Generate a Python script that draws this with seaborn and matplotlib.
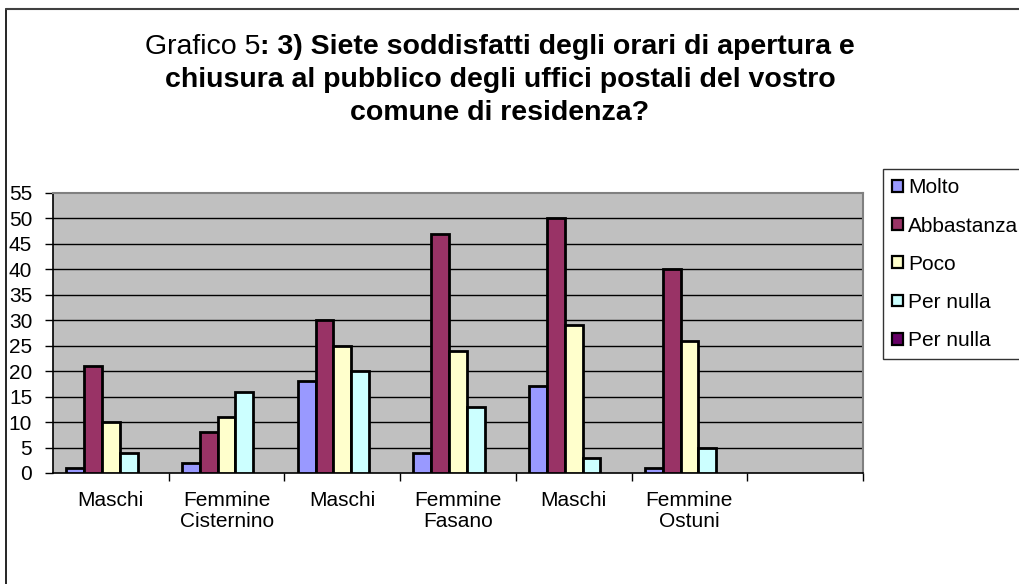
import numpy as np
import pandas as pd
import matplotlib
matplotlib.use("Agg")
import matplotlib.pyplot as plt
from matplotlib.patches import Patch
from matplotlib.lines import Line2D
import seaborn as sns

# ---- data ----
categories = ["Maschi Cisternino", "Femmine Cisternino", "Maschi Fasano",
              "Femmine Fasano", "Maschi Ostuni", "Femmine Ostuni", "vuoto"]
tick_labels = ["Maschi", "Femmine\nCisternino", "Maschi", "Femmine\nFasano",
               "Maschi", "Femmine\nOstuni", ""]
series = ["Molto", "Abbastanza", "Poco", "Per nulla", "Per nulla (2)"]
legend_labels = ["Molto", "Abbastanza", "Poco", "Per nulla", "Per nulla"]
molto = [1, 2, 18, 4, 17, 1, np.nan]
abbastanza = [21, 8, 30, 47, 50, 40, np.nan]
poco = [10, 11, 25, 24, 29, 26, np.nan]
per_nulla = [4, 16, 20, 13, 3, 5, np.nan]
per_nulla_2 = [np.nan] * 7
colors = ["#9999FF", "#993366", "#FFFFCC", "#CCFFFF", "#660066"]

values = [molto, abbastanza, poco, per_nulla, per_nulla_2]
rows = []
for s, vals in zip(series, values):
    for c, v in zip(categories, vals):
        rows.append({"cat": c, "series": s, "val": v})
df = pd.DataFrame(rows)

sns.set_theme(style="white")
plt.rcParams["font.family"] = ["Liberation Sans", "DejaVu Sans"]
for k in ["text.color", "axes.labelcolor", "xtick.color", "ytick.color"]:
    plt.rcParams[k] = "black"

W, H = 1020, 584
fig = plt.figure(figsize=(W / 100, H / 100), dpi=100)
fig.patch.set_facecolor("white")

L, R, T, B = 53, 863, 193, 473
ax = fig.add_axes([L / W, 1 - B / H, (R - L) / W, (B - T) / H])
ax.set_facecolor("#C0C0C0")

sns.barplot(data=df, x="cat", y="val", hue="series", order=categories,
            hue_order=series, palette=colors, width=5 / 6.5, dodge=True,
            edgecolor="black", linewidth=2.0, errorbar=None, legend=False,
            saturation=1, ax=ax, zorder=3)

ax.set_ylim(0, 55)
ax.set_xlim(-0.5, 6.5)
ax.set_yticks(np.arange(0, 56, 5))
ax.set_yticklabels([str(v) for v in range(0, 56, 5)], fontsize=15)
for y in range(5, 55, 5):
    ax.axhline(y, color="black", lw=1.0, zorder=1)

ax.set_xticks(range(7))
ax.set_xticklabels(tick_labels, fontsize=15, linespacing=1.1)
ax.set_xticks(np.arange(0.5, 6.6, 1), minor=True)
ax.tick_params(axis="x", which="major", length=0, pad=13)
ax.tick_params(axis="x", which="minor", length=6, width=1, direction="out",
               bottom=True)
ax.tick_params(axis="y", length=6, width=1, direction="out", pad=9,
               left=True)
ax.set_xlabel("")
ax.set_ylabel("")

for side in ["top", "right"]:
    ax.spines[side].set_color("#808080")
    ax.spines[side].set_linewidth(1.5)
for side in ["left", "bottom"]:
    ax.spines[side].set_color("black")
    ax.spines[side].set_linewidth(1.2)

# legend
handles = [Patch(facecolor=c, edgecolor="black", linewidth=1.6) for c in colors]
leg = fig.legend(handles, legend_labels, loc="upper left",
                 bbox_to_anchor=(883 / W, 1 - 169 / H), fontsize=15,
                 frameon=True, fancybox=False, edgecolor="black",
                 handlelength=0.5, handleheight=0.5, handletextpad=0.25,
                 labelspacing=0.92, borderpad=0.45, borderaxespad=0)
leg.get_frame().set_linewidth(1.0)

# outer chart frame
fig.add_artist(Line2D([6 / W, 6 / W], [0, 1 - 9 / H], color="black", lw=1.2))
fig.add_artist(Line2D([6 / W, 1], [1 - 9 / H, 1 - 9 / H], color="#404040", lw=1.5))

# title with mixed weights
fs = 20.5
cx = 500
fig.canvas.draw()
renderer = fig.canvas.get_renderer()
ya = 1 - 47 / H
t1 = fig.text(0, ya, "Grafico 5", fontsize=fs, va="center", ha="left")
t2 = fig.text(0, ya, ": 3) Siete soddisfatti degli orari di apertura e",
              fontsize=fs, fontweight="bold", va="center", ha="left")
w1 = t1.get_window_extent(renderer).width
w2 = t2.get_window_extent(renderer).width
x0 = cx - (w1 + w2) / 2
t1.set_x(x0 / W)
t2.set_x((x0 + w1) / W)
fig.text(cx / W, 1 - 80 / H, "chiusura al pubblico degli uffici postali del vostro",
         fontsize=fs, fontweight="bold", va="center", ha="center")
fig.text(cx / W, 1 - 113 / H, "comune di residenza?",
         fontsize=fs, fontweight="bold", va="center", ha="center")

fig.savefig("out.png", dpi=100, facecolor="white")
